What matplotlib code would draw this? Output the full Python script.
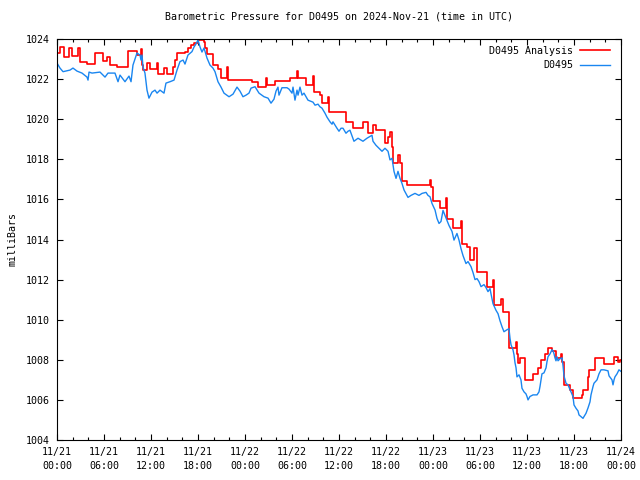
#!/usr/bin/env python
# Barometric pressure chart, gnuplot look
import numpy as np
import pandas as pd
import matplotlib
matplotlib.use('Agg')
import matplotlib.pyplot as plt
import matplotlib.dates as mdates

start = pd.Timestamp('2024-11-21 00:00')

# analysis series: hours since start, value (step-like)
analysis_hours = [0.0, 0.38, 0.89, 1.53, 1.91, 2.68, 2.94, 3.83, 4.85, 5.87, 6.38, 6.77, 7.66,
                  9.06, 10.21, 10.72, 10.85, 10.98, 11.49, 11.87, 12.77, 12.89, 13.66, 14.04,
                  14.81, 15.06, 15.32, 16.34, 16.72, 17.11, 17.49, 18.0, 18.77, 18.9, 19.15,
                  19.92, 20.55, 20.94, 21.7, 21.83, 24.89, 25.66, 26.68, 26.81, 27.83, 29.75,
                  30.64, 30.77, 31.79, 32.68, 32.81, 33.58, 33.83, 34.6, 34.73, 36.9, 37.79,
                  39.07, 39.7, 40.34, 40.73, 41.87, 42.26, 42.51, 42.77, 42.9, 43.53, 43.79,
                  44.04, 44.68, 47.62, 47.75, 48.0, 48.9, 49.66, 49.79, 50.56, 51.58, 51.7,
                  52.34, 52.72, 53.23, 53.62, 54.9, 55.66, 55.79, 56.68, 56.94, 57.7, 58.6,
                  58.72, 58.85, 59.1, 59.75, 60.77, 61.4, 61.79, 62.3, 62.68, 63.19, 63.7,
                  64.34, 64.47, 64.72, 65.49, 65.87, 67.02, 67.15, 67.79, 67.91, 68.68, 69.83,
                  71.11, 71.62, 71.87, 72.0]
analysis_mb = [1023.3, 1023.6, 1023.1, 1023.55, 1023.15, 1023.55, 1022.85, 1022.75, 1023.3,
               1022.9, 1023.1, 1022.7, 1022.6, 1023.4, 1023.2, 1023.5, 1022.7, 1022.45, 1022.8,
               1022.5, 1022.8, 1022.25, 1022.55, 1022.25, 1022.6, 1022.95, 1023.3, 1023.35,
               1023.55, 1023.7, 1023.8, 1023.95, 1023.85, 1023.55, 1023.25, 1022.7, 1022.5,
               1022.05, 1022.6, 1021.95, 1021.87, 1021.6, 1022.05, 1021.7, 1021.9, 1022.07,
               1022.4, 1022.05, 1021.7, 1022.15, 1021.37, 1021.2, 1020.8, 1021.1, 1020.37,
               1019.87, 1019.55, 1019.87, 1019.3, 1019.7, 1019.45, 1018.8, 1019.1, 1019.35,
               1018.63, 1017.8, 1018.2, 1017.8, 1016.9, 1016.7, 1016.95, 1016.6, 1015.9,
               1015.55, 1016.05, 1015.0, 1014.55, 1014.9, 1013.8, 1013.65, 1013.0, 1013.6,
               1012.4, 1011.65, 1012.0, 1010.75, 1011.05, 1010.4, 1008.57, 1008.9, 1008.3,
               1007.85, 1008.1, 1007.0, 1007.3, 1007.6, 1008.0, 1008.3, 1008.6, 1008.45,
               1008.1, 1008.3, 1007.9, 1006.75, 1006.5, 1006.08, 1006.25, 1006.5, 1007.15,
               1007.5, 1008.1, 1007.8, 1008.15, 1007.9, 1008.0, 1008.0]

# station observations
obs_hours = [0.0, 0.38, 0.77, 1.66, 2.04, 2.55, 3.19, 3.83, 3.96, 4.09, 4.47, 5.49, 6.13, 6.51,
             7.40, 7.79, 8.04, 8.68, 9.19, 9.45, 9.70, 10.21, 10.60, 10.72, 10.85, 10.98, 11.23,
             11.49, 11.74, 12.13, 12.51, 12.77, 13.15, 13.66, 13.91, 14.43, 14.94, 15.32, 15.70,
             16.09, 16.34, 16.60, 16.72, 17.23, 17.49, 17.74, 18.00, 18.26, 18.51, 18.77, 19.15,
             19.53, 19.91, 20.17, 20.55, 20.94, 21.32, 21.96, 22.47, 22.98, 23.36, 23.74, 24.13,
             24.51, 24.77, 25.28, 25.79, 26.43, 26.94, 27.32, 27.70, 27.96, 28.21, 28.34, 28.72,
             29.36, 29.62, 30.00, 30.13, 30.38, 30.64, 30.77, 31.02, 31.28, 31.53, 32.04, 32.68,
             32.94, 33.32, 33.57, 33.83, 34.21, 34.47, 34.85, 35.11, 35.23, 35.74, 36.00, 36.26,
             36.51, 36.89, 37.15, 37.40, 37.91, 38.43, 39.06, 39.57, 40.21, 40.34, 40.72, 41.11,
             41.49, 41.87, 42.26, 42.51, 42.77, 43.02, 43.28, 43.53, 43.79, 44.04, 44.30, 44.68,
             44.81, 45.19, 45.70, 46.21, 46.60, 47.11, 47.36, 47.62, 47.87, 48.26, 48.51, 48.77,
             49.02, 49.28, 49.53, 49.79, 50.04, 50.43, 50.68, 51.06, 51.32, 51.57, 51.83, 52.21,
             52.47, 52.85, 53.11, 53.36, 53.62, 53.87, 54.13, 54.51, 54.77, 55.02, 55.28, 55.40,
             55.66, 56.04, 56.30, 56.55, 56.81, 57.06, 57.45, 57.70, 57.83, 57.96, 58.21, 58.34,
             58.47, 58.60, 58.72, 58.98, 59.23, 59.36, 59.62, 59.87, 60.00, 60.13, 60.38, 60.77,
             61.28, 61.53, 61.66, 61.79, 61.91, 62.17, 62.43, 62.55, 62.68, 62.94, 63.19, 63.32,
             63.45, 63.57, 63.70, 63.83, 63.96, 64.21, 64.47, 64.60, 64.72, 64.98, 65.23, 65.62,
             65.87, 66.00, 66.26, 66.51, 66.64, 66.89, 67.15, 67.28, 67.53, 67.79, 68.04, 68.17,
             68.43, 68.55, 68.94, 69.06, 69.19, 69.45, 69.83, 70.34, 70.47, 70.85, 70.98, 71.11,
             71.23, 71.49, 71.74, 72.00]
obs_mb = [1022.8, 1022.55, 1022.37, 1022.45, 1022.55, 1022.4, 1022.3, 1022.1, 1021.95, 1022.35,
          1022.3, 1022.35, 1022.1, 1022.3, 1022.3, 1021.87, 1022.2, 1021.87, 1022.15, 1021.87,
          1022.7, 1023.3, 1023.2, 1022.95, 1023.2, 1022.6, 1022.3, 1021.45, 1021.05, 1021.35,
          1021.45, 1021.3, 1021.45, 1021.3, 1021.8, 1021.87, 1021.95, 1022.45, 1022.87, 1022.95,
          1022.75, 1023.05, 1023.2, 1023.37, 1023.6, 1023.75, 1023.95, 1023.6, 1023.35, 1023.55,
          1023.05, 1022.7, 1022.55, 1022.37, 1021.87, 1021.6, 1021.3, 1021.12, 1021.25, 1021.6,
          1021.4, 1021.12, 1021.2, 1021.3, 1021.55, 1021.62, 1021.3, 1021.12, 1021.05, 1020.8,
          1021.0, 1021.4, 1021.6, 1021.2, 1021.57, 1021.57, 1021.5, 1021.3, 1021.6, 1020.95,
          1021.45, 1021.2, 1021.6, 1021.2, 1021.3, 1020.95, 1020.85, 1020.7, 1020.75, 1020.62,
          1020.55, 1020.3, 1020.1, 1019.87, 1019.75, 1019.87, 1019.55, 1019.4, 1019.55, 1019.55,
          1019.3, 1019.4, 1019.45, 1018.9, 1019.05, 1018.9, 1019.05, 1019.2, 1018.9, 1018.7,
          1018.55, 1018.4, 1018.55, 1018.4, 1017.97, 1018.05, 1017.4, 1017.05, 1017.4, 1017.05,
          1016.8, 1016.47, 1016.2, 1016.1, 1016.2, 1016.3, 1016.2, 1016.3, 1016.35, 1016.2,
          1016.13, 1015.8, 1015.47, 1015.05, 1014.8, 1014.9, 1015.45, 1015.2, 1014.95, 1014.7,
          1014.4, 1013.97, 1014.3, 1013.97, 1013.55, 1013.2, 1012.8, 1012.9, 1012.65, 1012.35,
          1012.0, 1012.05, 1011.9, 1011.65, 1011.75, 1011.6, 1011.4, 1011.55, 1011.3, 1010.8,
          1010.47, 1010.3, 1009.95, 1009.65, 1009.4, 1009.5, 1009.55, 1009.07, 1008.75, 1008.5,
          1008.25, 1007.85, 1007.6, 1007.15, 1007.25, 1007.0, 1006.58, 1006.4, 1006.3, 1006.17,
          1006.0, 1006.17, 1006.25, 1006.25, 1006.4, 1006.67, 1007.0, 1007.3, 1007.35, 1007.6,
          1007.9, 1008.15, 1008.3, 1008.5, 1008.45, 1008.3, 1008.1, 1007.95, 1008.15, 1007.95,
          1008.05, 1008.1, 1007.7, 1007.2, 1006.83, 1006.75, 1006.4, 1006.17, 1005.75, 1005.58,
          1005.45, 1005.25, 1005.17, 1005.08, 1005.17, 1005.33, 1005.6, 1005.9, 1006.25, 1006.67,
          1006.83, 1007.0, 1007.15, 1007.3, 1007.5, 1007.5, 1007.45, 1007.2, 1007.0, 1006.75,
          1007.0, 1007.15, 1007.3, 1007.5, 1007.42]

analysis_t = start + pd.to_timedelta(analysis_hours, unit='h')
obs_t = start + pd.to_timedelta(obs_hours, unit='h')

plt.rcParams['font.family'] = 'DejaVu Sans Mono'
fs = 7.2

fig = plt.figure(figsize=(6.4, 4.8), dpi=100)
ax = fig.add_axes([57/640, 1-440/480, (621-57)/640, (440-39)/480])

ax.plot(analysis_t, analysis_mb, color='#ff0000', lw=1.2, drawstyle='steps-post', label='D0495 Analysis')
ax.plot(obs_t, obs_mb, color='#1a86f0', lw=1.0, label='D0495')

ax.set_xlim(start, start + pd.Timedelta(hours=72))
ax.set_ylim(1004, 1024)
ax.set_yticks(np.arange(1004, 1025, 2))
ax.xaxis.set_major_locator(mdates.HourLocator(byhour=[0, 6, 12, 18]))
ax.xaxis.set_minor_locator(mdates.HourLocator(byhour=range(0, 24, 2)))
ax.xaxis.set_major_formatter(mdates.DateFormatter('%m/%d\n%H:%M'))

ax.tick_params(which='both', direction='in', top=True, right=True, labelsize=fs, width=0.8, colors='k')
ax.tick_params(which='major', length=4.3, pad=5)
ax.tick_params(which='minor', length=2.2)
for lab in ax.get_xticklabels():
    lab.set_linespacing(1.5)
for s in ax.spines.values():
    s.set_linewidth(0.8)

ax.set_title('Barometric Pressure for D0495 on 2024-Nov-21 (time in UTC)', fontsize=fs, pad=14)
ax.set_ylabel('milliBars', fontsize=fs, labelpad=6)

ax.legend(loc='upper right', bbox_to_anchor=(0.993, 1.0), markerfirst=False, frameon=False,
          fontsize=fs, handlelength=3.0, handletextpad=0.7, labelspacing=0.45,
          borderaxespad=0.3, borderpad=0.4)

plt.savefig('out.png', dpi=100)
